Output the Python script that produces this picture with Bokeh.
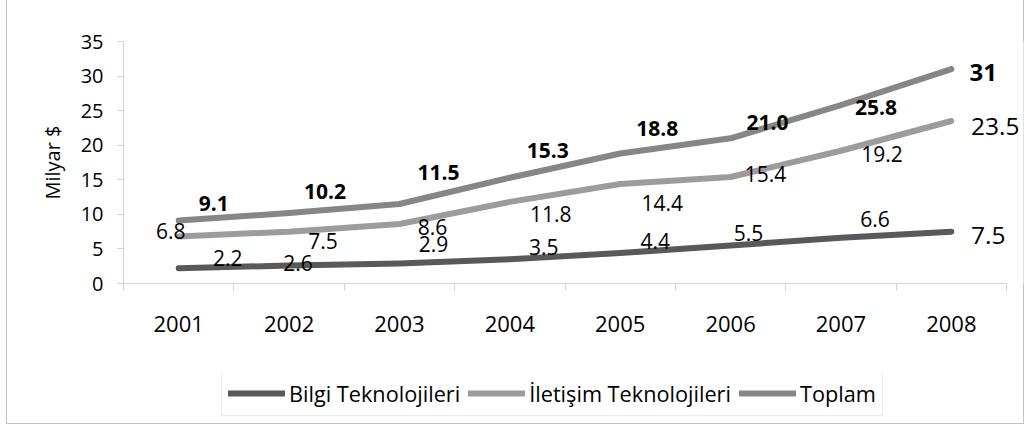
from bokeh.plotting import figure
from bokeh.layouts import column
from bokeh.models import (ColumnDataSource, LabelSet, Range1d, FixedTicker,
                          Legend, LegendItem)
from bokeh.core.properties import value
from bokeh.embed import file_html
from bokeh.resources import INLINE

# ---- data ----
years = ["2001", "2002", "2003", "2004", "2005", "2006", "2007", "2008"]
bilgi = [2.2, 2.6, 2.9, 3.5, 4.4, 5.5, 6.6, 7.5]
iletisim = [6.8, 7.5, 8.6, 11.8, 14.4, 15.4, 19.2, 23.5]
toplam = [9.1, 10.2, 11.5, 15.3, 18.8, 21.0, 25.8, 31]
bilgi_text = ["2.2", "2.6", "2.9", "3.5", "4.4", "5.5", "6.6", "7.5"]
iletisim_text = ["6.8", "7.5", "8.6", "11.8", "14.4", "15.4", "19.2", "23.5"]
toplam_text = ["9.1", "10.2", "11.5", "15.3", "18.8", "21.0", "25.8", "31"]
y_ticks = [0, 5, 10, 15, 20, 25, 30, 35]

# ---- label placement (screen px, relative to point; dy positive = down) ----
toplam_dx = [35, 36, 39, 38, 37, 37, 35, 32]
toplam_dy = [-17, -21, -31, -27, -25, -16, 2, 3]
iletisim_dx = [-8, 34, 33, 41, 42, 35, 41, 44]
iletisim_dy = [-5, 9, 3, 12, 19, -3, 3, 5]
bilgi_dx = [49, 9, 34, 34, 35, 18, 34, 37]
bilgi_dy = [-10, -3, -19, -12, -12, -12, -19, 4]

FONT = "Open Sans"
C_BILGI = "#595959"
C_ILET = "#9c9c9c"
C_TOP = "#868686"
AXIS_C = "#d4d4d4"
BORDER = "#c4c4c4"

N = len(years)
xs = [i + 0.5 for i in range(N)]
PX_PER_CAT = (1006 - 123) / N          # category width on screen
X_END = N + (1023 - 1006) / PX_PER_CAT  # room on the right for end labels

p = figure(width=1024, height=372, output_backend="svg", toolbar_location=None,
           x_range=Range1d(0, X_END), y_range=Range1d(0, 35),
           min_border_left=123, min_border_right=1, min_border_top=41,
           min_border_bottom=89)
p.outline_line_color = None
p.xgrid.visible = False
p.ygrid.visible = False
p.background_fill_color = "white"
p.border_fill_color = None
p.styles = {
    "background-color": "white",
    "box-shadow": (f"inset 6px 0 0 white, inset 7px 0 0 {BORDER}, "
                   f"inset -1px 0 0 {BORDER}"),
}

# x axis: labels at category centres, tick marks between categories
xa = p.xaxis[0]
xa.bounds = (0, N)
xa.ticker = FixedTicker(ticks=xs, minor_ticks=list(range(N + 1)))
xa.major_label_overrides = {x: y for x, y in zip(xs, years)}
xa.major_tick_out = 0
xa.major_tick_in = 0
xa.minor_tick_out = 7
xa.minor_tick_in = 0
xa.minor_tick_line_color = AXIS_C
xa.axis_line_color = AXIS_C
xa.major_label_text_font = FONT
xa.major_label_text_font_size = "22px"
xa.major_label_text_color = "black"
xa.major_label_standoff = 25

ya = p.yaxis[0]
ya.ticker = FixedTicker(ticks=y_ticks, minor_ticks=[])
ya.major_tick_out = 6
ya.major_tick_in = 0
ya.major_tick_line_color = AXIS_C
ya.axis_line_color = AXIS_C
ya.major_label_text_font = FONT
ya.major_label_text_font_size = "20px"
ya.major_label_text_color = "black"
ya.major_label_standoff = 14
ya.axis_label = "Milyar $"
ya.axis_label_text_font = FONT
ya.axis_label_text_font_size = "20px"
ya.axis_label_text_font_style = "normal"
ya.axis_label_text_color = "black"
ya.axis_label_standoff = 12

series = [
    ("Bilgi Teknolojileri", bilgi, bilgi_text, C_BILGI, bilgi_dx, bilgi_dy, "normal"),
    ("İletişim Teknolojileri", iletisim, iletisim_text, C_ILET, iletisim_dx, iletisim_dy, "normal"),
    ("Toplam", toplam, toplam_text, C_TOP, toplam_dx, toplam_dy, "bold"),
]

# legend lives in its own strip below the chart (frame aligned with chart's)
pl = figure(width=1024, height=52, output_backend="svg", toolbar_location=None,
            x_axis_type=None, y_axis_type=None,
            x_range=Range1d(0, 1), y_range=Range1d(0, 1), min_border=0)
pl.outline_line_color = None
pl.xgrid.visible = False
pl.ygrid.visible = False
pl.background_fill_color = None
pl.border_fill_color = None
pl.styles = {
    "background-color": "white",
    "box-shadow": (f"inset 6px 0 0 white, inset 7px 0 0 {BORDER}, "
                   f"inset -1px 0 0 {BORDER}, inset 0 -1px 0 {BORDER}"),
}

items = []
for name, vals, texts, color, dx, dy, style in series:
    src = ColumnDataSource(dict(
        x=xs, y=vals, t=texts,
        xo=dx, yo=[-d for d in dy],
        fs=["21px"] * (len(vals) - 1) + ["24.5px" if style == "normal" else "24px"],
    ))
    p.line("x", "y", source=src, line_color=color, line_width=6,
           line_cap="round", line_join="round")
    lbl = LabelSet(x="x", y="y", text="t", source=src, x_offset="xo", y_offset="yo",
                   text_align="center", text_baseline="middle",
                   text_font=value(FONT), text_font_size="fs",
                   text_font_style=value(style), text_color="black")
    p.add_layout(lbl)
    # legend proxy: same series, drawn outside the strip's visible range
    lr = pl.line(xs, [v + 100 for v in vals], line_color=color, line_width=6,
                 line_cap="round", line_join="round")
    items.append(LegendItem(label=name, renderers=[lr]))

legend = Legend(items=items, orientation="horizontal", location=(98, 8),
                border_line_color="#d9d9d9", border_line_width=1,
                background_fill_color="white", background_fill_alpha=1,
                label_text_font=FONT, label_text_font_size="21.7px",
                label_text_color="black",
                glyph_width=57, glyph_height=32, label_height=32,
                label_standoff=4, spacing=8, padding=6, margin=0)
pl.add_layout(legend, "center")

layout = column(p, pl, spacing=0)

open("out.html", "w").write(file_html(layout, INLINE))
